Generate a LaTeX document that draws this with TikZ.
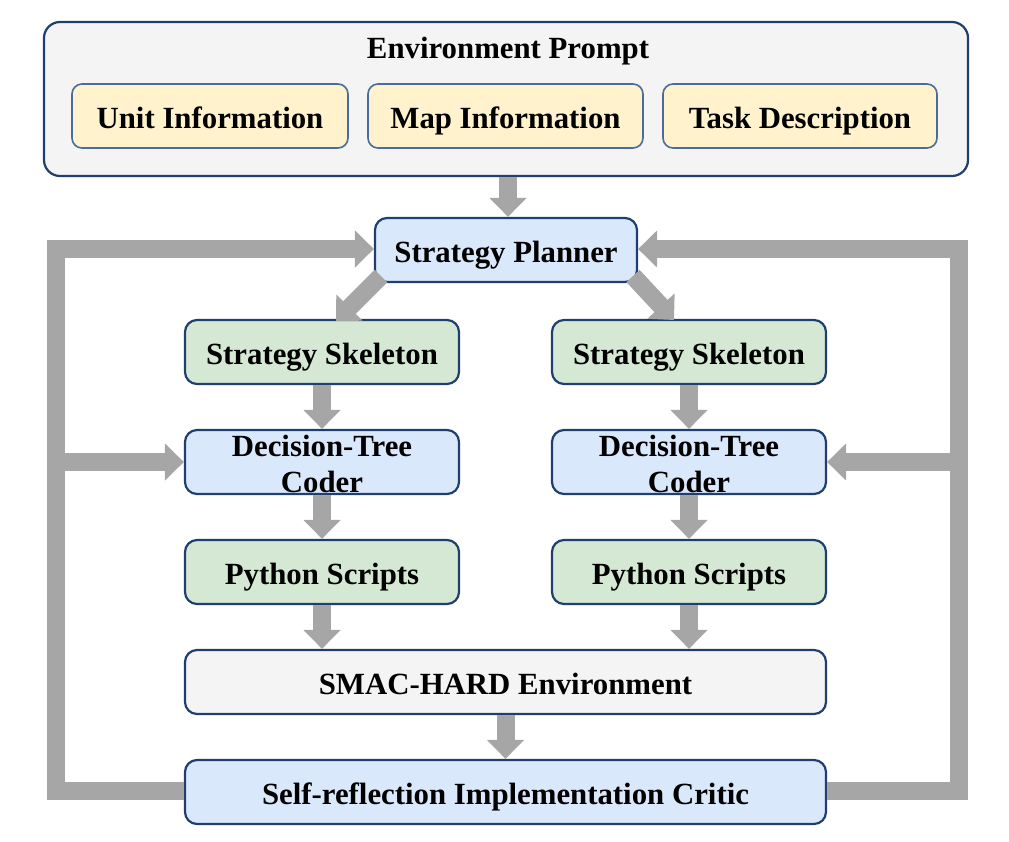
\documentclass[tikz,border=0pt]{standalone}
\usepackage{fontspec}
\setmainfont{Liberation Serif}
\usetikzlibrary{arrows.meta}
\definecolor{bordc}{HTML}{1F406E}
\definecolor{innerbord}{HTML}{4A6C9B}
\definecolor{blueF}{HTML}{DAE8FC}
\definecolor{greenF}{HTML}{D5E8D4}
\definecolor{yellowF}{HTML}{FFF2CC}
\definecolor{greyF}{HTML}{F4F4F4}
\definecolor{arrowc}{HTML}{A6A6A6}
\tikzset{
  box/.style={draw=bordc, line width=2.2pt, rounded corners=12pt, inner sep=0pt,
    font=\bfseries\fontsize{30.8}{36}\selectfont, align=center, minimum height=64pt,
    text height=27pt, text depth=3pt},
  twoline/.style={text height=61pt, text depth=1pt},
  bluebox/.style={box, fill=blueF},
  greenbox/.style={box, fill=greenF},
  greybox/.style={box, fill=greyF},
  yellowbox/.style={box, fill=yellowF, draw=innerbord, line width=1.6pt, rounded corners=10pt},
  garrow/.style={draw=arrowc, line width=18pt, line join=miter,
    -{Triangle[width=36pt,length=19pt]}},
}
\begin{document}
\begin{tikzpicture}[x=1pt,y=-1pt]
\useasboundingbox (0,0) rectangle (1009,841);
% Environment prompt
\node[greybox, minimum width=924pt, minimum height=154pt, rounded corners=16pt] (env) at (506,99) {};
\node[font=\bfseries\fontsize{30.8}{36}\selectfont, inner sep=0pt, anchor=base] (title) at (508,58) {Environment Prompt};
\node[yellowbox, minimum width=276pt] (unit) at (210,116) {Unit Information};
\node[yellowbox, minimum width=275pt] (map) at (505.5,116) {Map Information};
\node[yellowbox, minimum width=274pt] (task) at (800,116) {Task Description};
% Planner
\node[bluebox, minimum width=262pt] (planner) at (506,250) {Strategy Planner};
% Left column
\node[greenbox, minimum width=274pt] (skL) at (322,352) {Strategy Skeleton};
\node[bluebox, twoline, minimum width=274pt] (dtL) at (322,462) {Decision-Tree\\Coder};
\node[greenbox, minimum width=274pt] (pyL) at (322,572) {Python Scripts};
% Right column
\node[greenbox, minimum width=274pt] (skR) at (689,352) {Strategy Skeleton};
\node[bluebox, twoline, minimum width=274pt] (dtR) at (689,462) {Decision-Tree\\Coder};
\node[greenbox, minimum width=274pt] (pyR) at (689,572) {Python Scripts};
% Bottom
\node[greybox, minimum width=641pt] (smac) at (505.5,682) {SMAC-HARD Environment};
\node[bluebox, minimum width=641pt] (self) at (505.5,792) {Self-reflection Implementation Critic};
% coordinates
\coordinate (dl0) at (381,276);
\coordinate (dl1) at (336,321);
\coordinate (dr0) at (633,276);
\coordinate (dr1) at (674,320);
\coordinate (lb) at (56,791);
\coordinate (lm) at (56,462);
\coordinate (lt) at (56,249);
\coordinate (rb) at (959,791);
\coordinate (rm) at (959,462);
\coordinate (rt) at (959,249);
% arrows
\draw[garrow] (env.south -| 508,0) -- (planner.north -| 508,0);
\draw[garrow] (dl0) -- (dl1);
\draw[garrow] (dr0) -- (dr1);
\draw[garrow] (skL.south) -- (skL.south |- dtL.north);
\draw[garrow] (dtL.south) -- (pyL.north);
\draw[garrow] (skR.south) -- (skR.south |- dtR.north);
\draw[garrow] (dtR.south) -- (pyR.north);
\draw[garrow] (pyL.south) -- (pyL.south |- smac.north);
\draw[garrow] (pyR.south) -- (pyR.south |- smac.north);
\draw[garrow] (smac.south) -- (self.north);
% feedback loops
\draw[garrow] (self.west |- lb) -- (lb) -- (lt) -- (planner.west |- lt);
\draw[garrow] (lm) -- (dtL.west);
\draw[garrow] (self.east |- rb) -- (rb) -- (rt) -- (planner.east |- rt);
\draw[garrow] (rm) -- (dtR.east);
\end{tikzpicture}
\end{document}
